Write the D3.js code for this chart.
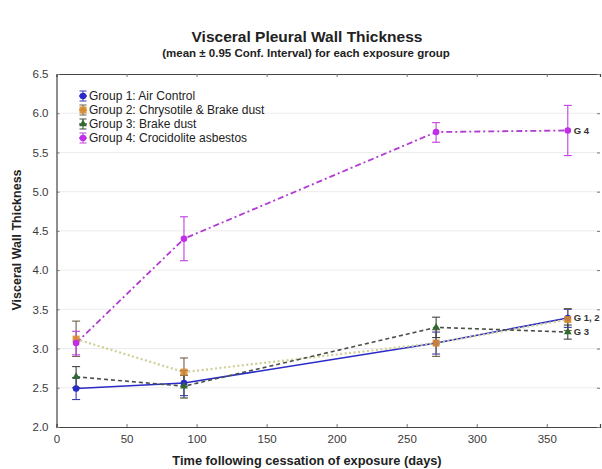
<!DOCTYPE html>
<html>
<head>
<meta charset="utf-8">
<script src="https://cdn.jsdelivr.net/npm/d3@7"></script>
<style>
  html, body { margin: 0; padding: 0; background: #fff; }
  svg { display: block; font-family: "Liberation Sans", Arial, sans-serif; }
</style>
</head>
<body>
<svg id="chart" width="602" height="469"></svg>
<script>
// Sampling times (days after exposure ended)
const days = [14, 91, 271, 365];

// Group means and 0.95 confidence limits
const groupNames = ["Group 1: Air Control", "Group 2: Chrysotile & Brake dust", "Group 3: Brake dust", "Group 4: Crocidolite asbestos"];
const g1Mean = [2.49, 2.56, 3.07, 3.39];
const g1Low  = [2.35, 2.40, 2.93, 3.27];
const g1High = [2.63, 2.72, 3.21, 3.50];
const g2Mean = [3.12, 2.70, 3.07, 3.37];
const g2Low  = [2.90, 2.52, 2.90, 3.23];
const g2High = [3.35, 2.88, 3.24, 3.51];
const g3Mean = [2.64, 2.52, 3.27, 3.21];
const g3Low  = [2.50, 2.37, 3.14, 3.12];
const g3High = [2.77, 2.66, 3.40, 3.30];
const g4Mean = [3.07, 4.40, 5.76, 5.78];
const g4Low  = [2.92, 4.12, 5.63, 5.46];
const g4High = [3.22, 4.68, 5.88, 6.10];

// Axis ticks
const xTicks = [0, 50, 100, 150, 200, 250, 300, 350];
const yTicks = [2.0, 2.5, 3.0, 3.5, 4.0, 4.5, 5.0, 5.5, 6.0, 6.5];

// End-of-line group tags
const endTags = [
  { text: "G 4", value: 5.78 },
  { text: "G 1, 2", value: 3.39 },
  { text: "G 3", value: 3.21 }
];

const svg = d3.select("#chart");
const x = d3.scaleLinear().domain([0, 388]).range([56.5, 600]);
const y = d3.scaleLinear().domain([2.0, 6.5]).range([427, 74]);

// Styling per group
const styles = [
  { line: "#2a2ac8", width: 1.6, dash: null,       marker: "circle",   fill: "#2a2ac8", err: "#3a3ab0" },
  { line: "#cfcf96", width: 2.2, dash: "2,2.5",    marker: "square",   fill: "#d68a2e", err: "#6e6048" },
  { line: "#4a5048", width: 1.6, dash: "4,3",      marker: "triangle", fill: "#2f6a2f", err: "#3c463c" },
  { line: "#b23ad2", width: 1.8, dash: "6,3,2,3",  marker: "circle",   fill: "#c02ee8", err: "#c040e0" }
];

const groups = [
  { mean: g1Mean, lo: g1Low, hi: g1High },
  { mean: g2Mean, lo: g2Low, hi: g2High },
  { mean: g3Mean, lo: g3Low, hi: g3High },
  { mean: g4Mean, lo: g4Low, hi: g4High }
];

// Faint horizontal grid
svg.append("g").selectAll("line").data(yTicks.slice(1, -1)).join("line")
  .attr("x1", x(0)).attr("x2", 600)
  .attr("y1", d => y(d)).attr("y2", d => y(d))
  .attr("stroke", "#ececec").attr("stroke-width", 1);

// Axes with inward ticks
const axisColor = "#444";
const gx = svg.append("g").attr("transform", `translate(0,${y(2.0)})`)
  .call(d3.axisBottom(x).tickValues(xTicks).tickSize(-3).tickPadding(8).tickFormat(d3.format("d")));
const gxTop = svg.append("g").attr("transform", `translate(0,${y(6.5)})`)
  .call(d3.axisTop(x).tickValues(xTicks.slice(1)).tickSize(-3).tickFormat(""));
const gy = svg.append("g").attr("transform", `translate(${x(0)},0)`)
  .call(d3.axisLeft(y).tickValues(yTicks).tickSize(-3).tickPadding(8).tickFormat(d3.format(".1f")));
const gyRight = svg.append("g").attr("transform", `translate(600,0)`)
  .call(d3.axisRight(y).tickValues(yTicks).tickSize(-3).tickFormat(""));

[gx, gxTop, gy, gyRight].forEach(g => {
  g.select(".domain").attr("stroke", axisColor).attr("stroke-width", 1.2);
  g.selectAll(".tick line").attr("stroke", "#777");
  g.selectAll("text").attr("fill", "#3a3a3a").attr("font-size", 11.5)
    .attr("font-family", "'Liberation Sans', Arial, sans-serif");
});
gyRight.select(".domain").attr("stroke", "none");
gx.selectAll("text").attr("dy", "0.71em");

// Series lines
const lineGen = d3.line().x(d => x(d[0])).y(d => y(d[1]));
groups.forEach((g, i) => {
  const s = styles[i];
  svg.append("path")
    .datum(days.map((d, k) => [d, g.mean[k]]))
    .attr("d", lineGen)
    .attr("fill", "none")
    .attr("stroke", s.line)
    .attr("stroke-width", s.width)
    .attr("stroke-dasharray", s.dash);
});

// Error bars
const cap = 4;
groups.forEach((g, i) => {
  const s = styles[i];
  const eg = svg.append("g").attr("stroke", s.err).attr("stroke-width", 1.1);
  days.forEach((d, k) => {
    const cx = x(d);
    eg.append("line").attr("x1", cx).attr("x2", cx).attr("y1", y(g.lo[k])).attr("y2", y(g.hi[k]));
    eg.append("line").attr("x1", cx - cap).attr("x2", cx + cap).attr("y1", y(g.lo[k])).attr("y2", y(g.lo[k]));
    eg.append("line").attr("x1", cx - cap).attr("x2", cx + cap).attr("y1", y(g.hi[k])).attr("y2", y(g.hi[k]));
  });
});

// Markers
function drawMarker(sel, type, cx, cy, fill) {
  if (type === "circle") {
    sel.append("circle").attr("cx", cx).attr("cy", cy).attr("r", 3.3).attr("fill", fill);
  } else if (type === "square") {
    sel.append("rect").attr("x", cx - 3.5).attr("y", cy - 3.5).attr("width", 7).attr("height", 7)
      .attr("fill", fill).attr("opacity", 0.9);
  } else {
    sel.append("path").attr("d", d3.symbol(d3.symbolTriangle, 26)()).attr("transform", `translate(${cx},${cy})`)
      .attr("fill", fill);
  }
}
groups.forEach((g, i) => {
  const mg = svg.append("g");
  days.forEach((d, k) => drawMarker(mg, styles[i].marker, x(d), y(g.mean[k]), styles[i].fill));
});

// End tags
svg.append("g").selectAll("text").data(endTags).join("text")
  .attr("x", x(365) + 6).attr("y", d => y(d.value))
  .attr("dy", "0.35em")
  .attr("font-size", 9.5).attr("font-weight", "bold").attr("fill", "#333")
  .text(d => d.text);

// Legend
const legend = svg.append("g").attr("transform", "translate(83,96)");
groupNames.forEach((name, i) => {
  const s = styles[i];
  const row = legend.append("g").attr("transform", `translate(0,${i * 14})`);
  row.append("line").attr("x1", 0).attr("x2", 0).attr("y1", -5).attr("y2", 5).attr("stroke", s.err).attr("stroke-width", 1);
  row.append("line").attr("x1", -3.5).attr("x2", 3.5).attr("y1", -5).attr("y2", -5).attr("stroke", s.err);
  row.append("line").attr("x1", -3.5).attr("x2", 3.5).attr("y1", 5).attr("y2", 5).attr("stroke", s.err);
  row.append("line").attr("x1", -4).attr("x2", 4).attr("y1", 0).attr("y2", 0).attr("stroke", s.line === "#cfcf96" ? s.fill : s.line).attr("stroke-width", 1.4);
  drawMarker(row, s.marker, 0, 0, s.fill);
  row.append("text").attr("x", 6).attr("y", 0).attr("dy", "0.35em")
    .attr("font-size", 12).attr("fill", "#222").text(name);
});

// Titles
svg.append("text").attr("x", 307).attr("y", 42).attr("text-anchor", "middle")
  .attr("font-size", 15.5).attr("font-weight", "bold").attr("fill", "#222")
  .text("Visceral Pleural Wall Thickness");
svg.append("text").attr("x", 306).attr("y", 56.5).attr("text-anchor", "middle")
  .attr("font-size", 11.5).attr("font-weight", "bold").attr("fill", "#222")
  .text("(mean ± 0.95 Conf. Interval) for each exposure group");
svg.append("text").attr("x", 307).attr("y", 465).attr("text-anchor", "middle")
  .attr("font-size", 12.8).attr("font-weight", "bold").attr("fill", "#222")
  .text("Time following cessation of exposure (days)");
svg.append("text").attr("transform", "translate(21,240) rotate(-90)").attr("text-anchor", "middle")
  .attr("font-size", 12.5).attr("font-weight", "bold").attr("fill", "#222")
  .text("Visceral Wall Thickness");
</script>
</body>
</html>
